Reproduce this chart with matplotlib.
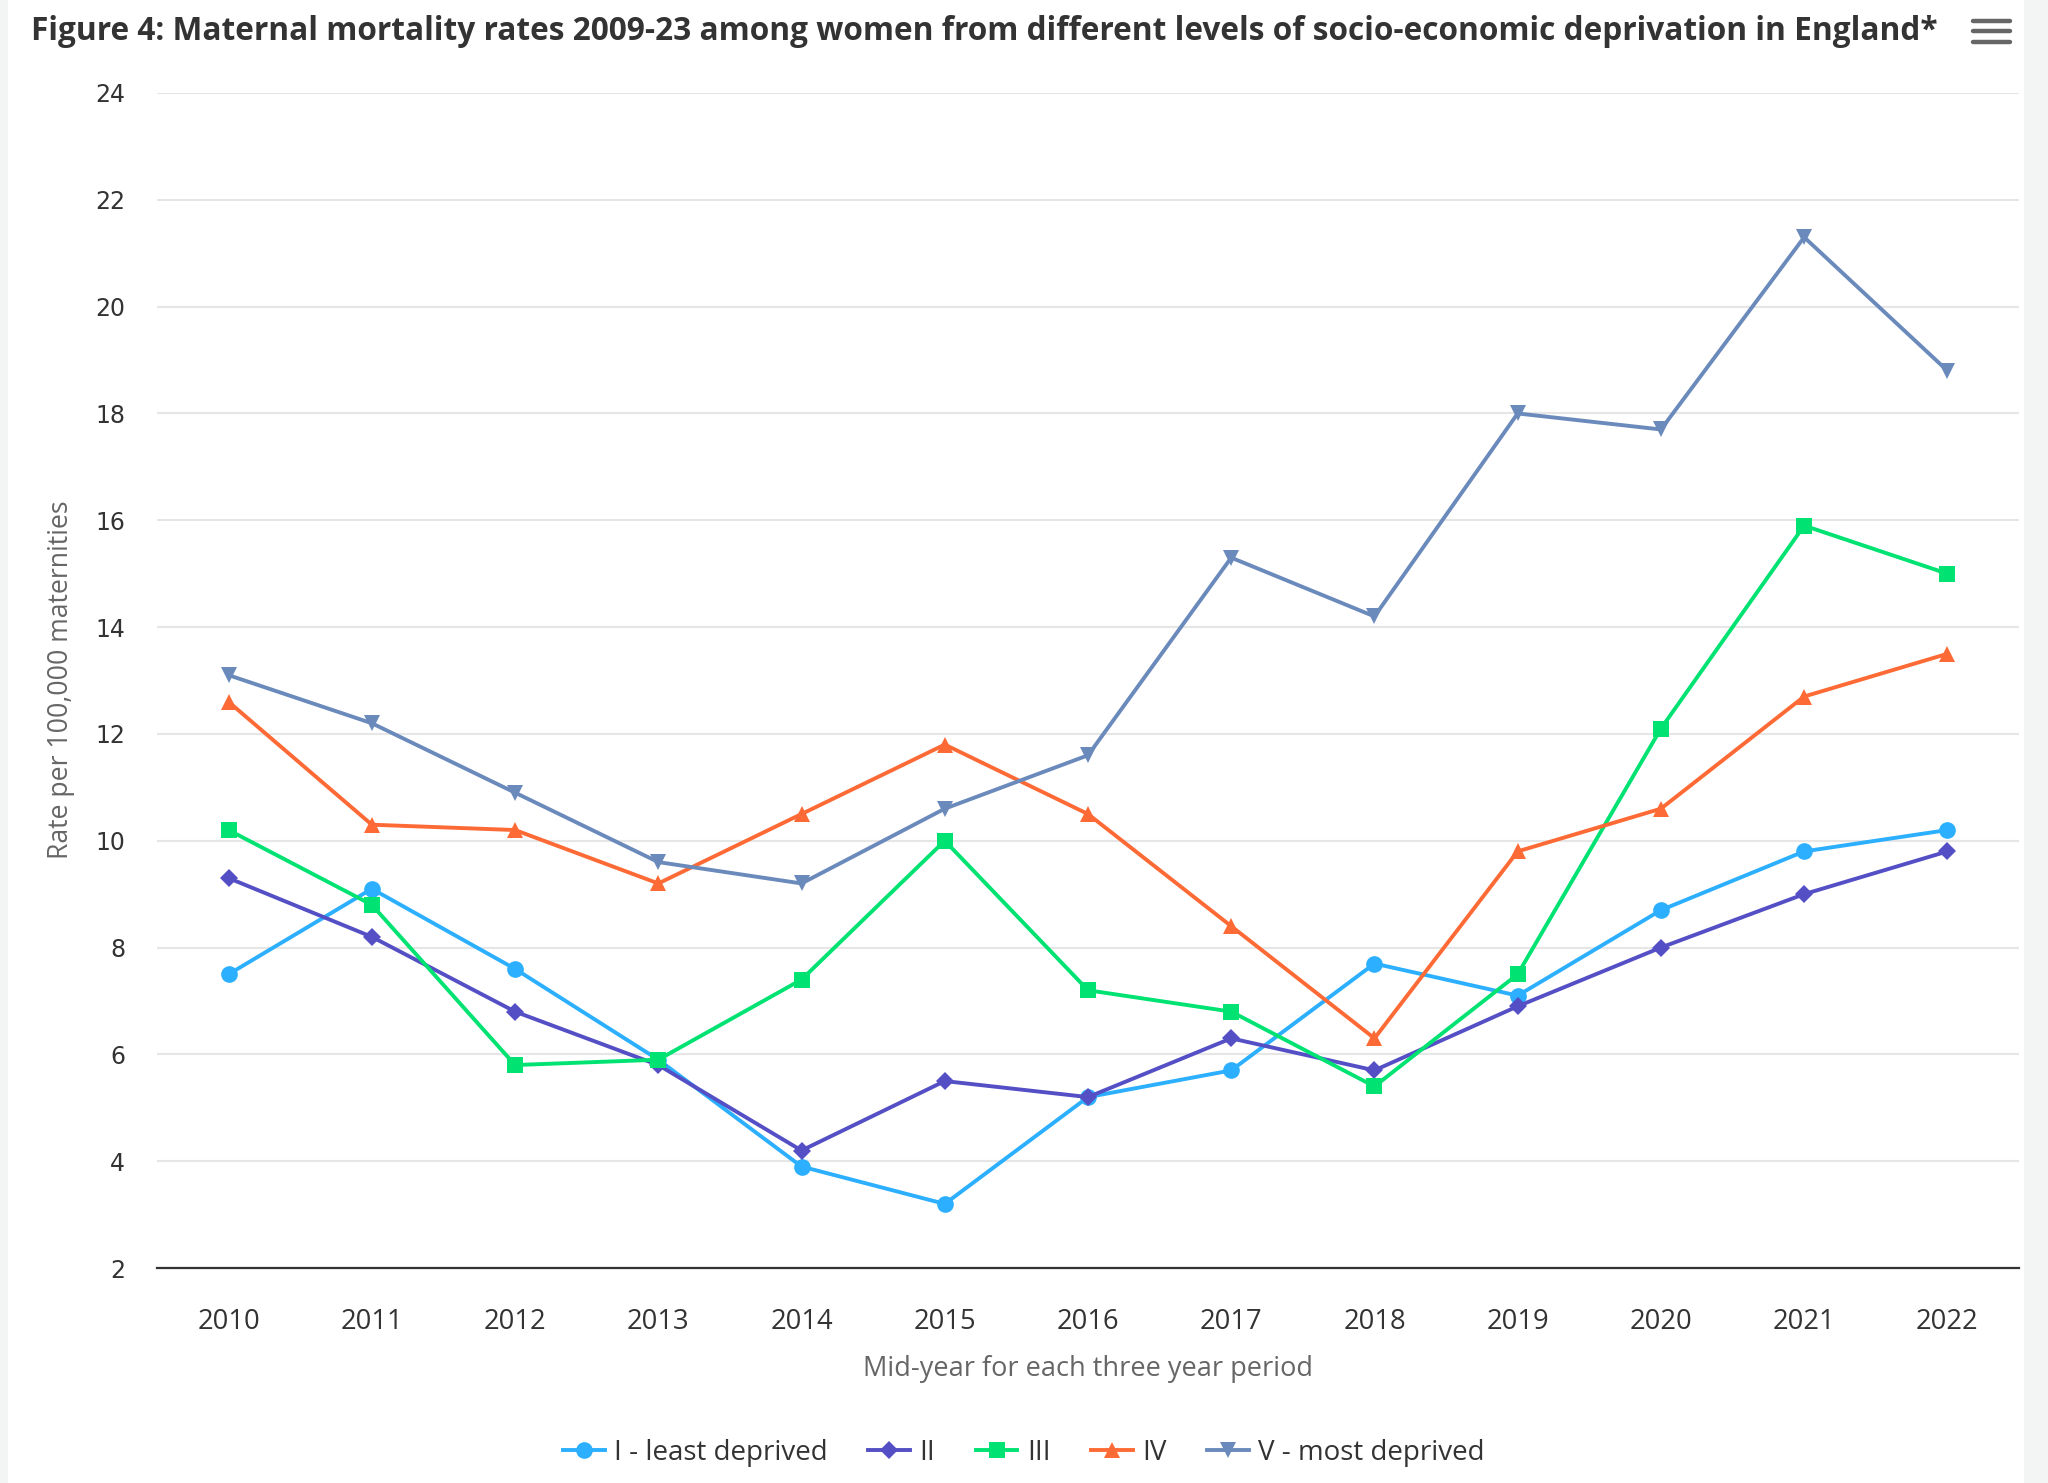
import matplotlib
matplotlib.use("Agg")
import matplotlib.pyplot as plt
from matplotlib.lines import Line2D
from matplotlib.patches import Rectangle

# Mid-year of each three-year reporting period
years = ["2010", "2011", "2012", "2013", "2014", "2015", "2016",
         "2017", "2018", "2019", "2020", "2021", "2022"]

# Rate per 100,000 maternities by deprivation quintile
q1_least = [7.5, 9.1, 7.6, 5.9, 3.9, 3.2, 5.2, 5.7, 7.7, 7.1, 8.7, 9.8, 10.2]
q2 = [9.3, 8.2, 6.8, 5.8, 4.2, 5.5, 5.2, 6.3, 5.7, 6.9, 8.0, 9.0, 9.8]
q3 = [10.2, 8.8, 5.8, 5.9, 7.4, 10.0, 7.2, 6.8, 5.4, 7.5, 12.1, 15.9, 15.0]
q4 = [12.6, 10.3, 10.2, 9.2, 10.5, 11.8, 10.5, 8.4, 6.3, 9.8, 10.6, 12.7, 13.5]
q5_most = [13.1, 12.2, 10.9, 9.6, 9.2, 10.6, 11.6, 15.3, 14.2, 18.0, 17.7, 21.3, 18.8]

series_names = ["I - least deprived", "II", "III", "IV", "V - most deprived"]
y_ticks = [2, 4, 6, 8, 10, 12, 14, 16, 18, 20, 22, 24]

title_text = ("Figure 4: Maternal mortality rates 2009-23 among women from "
              "different levels of socio-economic deprivation in England*")
x_title = "Mid-year for each three year period"
y_title = "Rate per 100,000 maternities"

colors = ["#2caffe", "#544fc5", "#00e272", "#fe6a35", "#6b8abc"]
markers = ["o", "D", "s", "^", "v"]
msizes = [12, 9.5, 11, 12, 12]

W, H = 2048, 1483
fig = plt.figure(figsize=(W / 100, H / 100), dpi=100, facecolor="white")

TXT = ["Open Sans", "DejaVu Sans"]

# grey page margins on either side of the chart container
fig.add_artist(Rectangle((0, 0), 8 / W, 1, transform=fig.transFigure,
                         facecolor="#f3f5f5", edgecolor="none", zorder=0))
fig.add_artist(Rectangle((2024 / W, 0), 24 / W, 1, transform=fig.transFigure,
                         facecolor="#f3f5f5", edgecolor="none", zorder=0))

left, right, top, bottom = 157, 2019, 93, 1268
ax = fig.add_axes([left / W, 1 - bottom / H, (right - left) / W, (bottom - top) / H])
ax.set_facecolor("none")

x = list(range(len(years)))
all_series = [q1_least, q2, q3, q4, q5_most]
for vals, name, c, m, ms in zip(all_series, series_names, colors, markers, msizes):
    ax.plot(x, vals, color=c, marker=m, markersize=ms, linewidth=2.8,
            label=name, markeredgewidth=0, zorder=3)

ax.set_xlim(-0.5, len(years) - 0.5)
ax.set_ylim(2, 24)
ax.set_yticks(y_ticks)
ax.set_yticklabels([str(v) for v in y_ticks], family=["DejaVu Sans"],
                   fontsize=17, color="#333333")
ax.set_xticks(x)
ax.set_xticklabels(years, family=TXT, fontsize=19.7, color="#333333")
ax.tick_params(axis="y", length=0, pad=23)
ax.tick_params(axis="x", length=0, pad=29)

ax.grid(axis="y", color="#e6e6e6", linewidth=1.5, zorder=0)
ax.set_axisbelow(True)
for side in ["top", "right", "left"]:
    ax.spines[side].set_visible(False)
ax.spines["bottom"].set_color("#333333")
ax.spines["bottom"].set_linewidth(1.6)

fig.text(31 / W, 1 - 31 / H, title_text, ha="left", va="center",
         fontsize=22.8, fontweight="bold", color="#333333", family=TXT)
fig.text((left + right) / 2 / W, 1 - 1369 / H, x_title, ha="center", va="center",
         fontsize=19.5, color="#666666", family=TXT)
fig.text(61 / W, 1 - 680 / H, y_title, ha="center", va="center", rotation=90,
         fontsize=19.2, color="#666666", family=TXT)

# export menu icon
for yy in (21, 31, 42):
    fig.add_artist(Line2D([1973 / W, 2010 / W], [1 - yy / H, 1 - yy / H],
                          transform=fig.transFigure, color="#666666",
                          linewidth=3.2, solid_capstyle="round"))

leg = fig.legend(loc="center", bbox_to_anchor=(0.5, 1 - 1453 / H), ncol=5,
                 frameon=False, handlelength=1.5, handletextpad=0.35,
                 columnspacing=1.45, prop={"family": TXT, "size": 20})
for t in leg.get_texts():
    t.set_color("#333333")

fig.savefig("out.png", dpi=100, facecolor="white")
